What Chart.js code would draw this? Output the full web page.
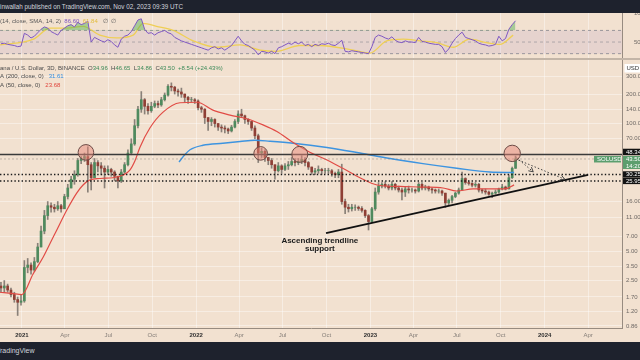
<!DOCTYPE html>
<html lang="en">
<head>
  <meta charset="UTF-8">
  <title>SOLUSD 3D - Binance</title>
  <script src="https://cdn.jsdelivr.net/npm/chart.js"></script>
  <style>
    body { margin: 0; width: 640px; height: 360px; overflow: hidden; background: #f2e1d0; position: relative; font-family: "Liberation Sans", Arial, sans-serif; }
    .topbar { position: absolute; left: 0; top: 0; width: 640px; height: 13px; background: #1e222d; color: #d1d4dc; font-size: 6.3px; line-height: 13px; white-space: nowrap; }
    .footer { position: absolute; left: 0; top: 342px; width: 640px; height: 18px; background: #1e222d; color: #d1d4dc; font-size: 7px; line-height: 18px; white-space: nowrap; overflow: hidden; }
    .footer span { position: relative; left: -4px; }
    .sep { position: absolute; left: 0; top: 58px; width: 640px; height: 2px; background: #c3b5a7; }
    #rsiChart { position: absolute; left: 0; top: 13px; }
    #mainChart { position: absolute; left: 0; top: 60px; }
  </style>
</head>
<body>
  <div class="topbar">inwallah published on TradingView.com, Nov 02, 2023 09:39 UTC</div>
  <canvas id="rsiChart" width="640" height="45"></canvas>
  <div class="sep"></div>
  <canvas id="mainChart" width="640" height="282"></canvas>
  <div class="footer"><span>TradingView</span></div>

  <script>
    // x values are days counted from 2021-01-01, one candle per week
    const firstCandleDay = -44;
    const candleStep = 7;
    const firstOpen = 2.2;

    const closes = [2.1, 2.2, 2.0, 1.8, 1.6, 1.5, 1.55, 3.4, 3.6, 3.2,
      3.9, 5.5, 8.0, 11.5, 14.5, 14, 13.5, 14.5, 13.5, 18,
      22, 27, 30, 42, 44, 46, 38, 28, 40, 37,
      35, 32, 34, 32, 29, 26, 32, 38, 50, 62,
      95, 140, 175, 150, 135, 150, 160, 155, 175, 195,
      240, 235, 215, 210, 200, 185, 175, 175, 170, 145,
      140, 115, 105, 110, 100, 92, 90, 88, 84, 92,
      105, 125, 120, 110, 105, 90, 75, 50, 52, 45,
      42, 38, 33, 37, 34, 37, 38, 41, 40, 41,
      43, 40, 36, 32, 33, 34, 33, 33, 33, 31,
      30, 32, 16, 14, 13.5, 14, 14, 13.6, 13.0, 11.5,
      10, 13.5, 20, 23, 24, 23, 22, 24, 22, 21,
      20, 21.5, 21, 21, 20.5, 24, 22, 22.5, 21.5, 21,
      20.5, 20.5, 19.5, 15.5, 16.5, 18, 19.5, 21, 27.5, 25,
      24.5, 23.5, 24, 21, 20.5, 20, 19, 19.5, 20, 21.5,
      22.5, 21.5, 28, 34.96, 43.5];
    const highs = [2.4, 2.5, 2.3, 2.1, 1.9, 1.7, 1.8, 4.0, 4.2, 3.8,
      4.3, 6.0, 9.0, 13, 16, 15.5, 15, 16, 15, 19,
      24, 29, 33, 44, 46, 50, 58, 40, 44, 42,
      40, 37, 37, 35, 33, 29, 34, 40, 54, 70,
      110, 150, 212, 180, 160, 165, 170, 170, 185, 205,
      250, 260, 240, 225, 230, 200, 190, 185, 180, 175,
      150, 142, 115, 115, 112, 100, 97, 95, 90, 96,
      110, 135, 140, 122, 112, 105, 95, 78, 56, 54,
      45, 44, 38, 40, 38, 39, 41, 45, 44, 44,
      47, 45, 41, 36, 35, 37, 35, 35, 35, 34,
      32, 34, 38.5, 17, 15, 15, 14.8, 14.4, 14.2, 13.2,
      11.8, 14, 22, 25, 25, 25.5, 24, 25.5, 24.5, 23,
      22, 22.5, 23, 22, 21.5, 25, 25, 23.5, 23, 22,
      21.5, 21.5, 21, 19.5, 17, 18.5, 20, 22, 32, 28,
      26, 25, 25, 24.5, 21.5, 21.5, 20.5, 20, 21, 22,
      24, 23, 30, 36, 46.65];
    const lows = [1.9, 1.9, 1.9, 1.7, 1.5, 1.1, 1.4, 1.5, 3.0, 2.9,
      3.1, 3.8, 5.5, 7.5, 10.5, 12.5, 12.5, 13, 12.5, 13.5,
      17, 22, 24, 29, 39, 41, 20, 21, 28, 32,
      30, 22, 30, 29, 26, 22, 25, 31, 37, 48,
      60, 90, 130, 125, 125, 130, 145, 145, 150, 170,
      190, 215, 200, 190, 185, 165, 160, 165, 160, 138,
      130, 100, 85, 95, 92, 85, 82, 80, 79, 82,
      90, 100, 115, 100, 98, 85, 70, 40, 45, 41,
      38, 35, 27, 32, 31, 33, 34, 37, 37, 38,
      39, 37, 34, 30, 30, 31, 30, 31, 31, 29,
      28, 28, 15, 12, 12.5, 12.8, 13, 13, 12.5, 11,
      8.2, 9.8, 13, 19, 22, 22, 21, 21, 21, 20,
      16.6, 18, 19.5, 20, 19.5, 20, 21, 21, 20.5, 19.5,
      19.5, 19.5, 18.5, 13.9, 14.5, 15.5, 17.5, 19, 21, 24,
      23.5, 22.5, 22.5, 20, 19.5, 19, 18.5, 17.5, 19, 19.5,
      21, 21, 21.5, 27.5, 34.86];

    const sma200Days = [329, 341, 352, 379, 421, 457, 488, 519, 568, 639, 708, 771, 840, 911, 980, 1031];
    const sma200Values = [40.5, 48, 54, 60, 63, 65.5, 67.5, 66, 63, 57, 50, 44, 39, 35, 32, 31.61];
    const sma50Days = [-46, -21, 0, 23, 44, 59, 73, 94, 115, 128, 142, 163, 191, 212, 226, 237, 247, 268, 295, 331,
      367, 400, 436, 471, 505, 534, 568, 603, 639, 672, 708, 744, 792, 840, 882, 911, 945, 980, 1012, 1031];
    const sma50Values = [1.9, 1.85, 1.8, 2.9, 4.3, 6.0, 8.2, 13.1, 19.6, 23.6, 26.5, 27.5, 28, 29.8, 33.5, 42, 57, 90, 130, 163,
      165, 137, 122, 112, 97, 83, 64, 51, 42.5, 35, 28, 23.6, 22.8, 22.5, 22, 20.5, 21.5, 21.5, 21.5, 23.68];

    const rsiValues = [47, 48, 46, 45, 44, 42, 43, 65, 62, 57,
      60, 66, 72, 76, 74, 68, 65, 62, 70, 74,
      78, 80, 76, 84, 80, 82, 86, 50, 58, 55,
      52, 50, 54, 51, 45, 41, 55, 60, 62, 68,
      78, 88, 90, 72, 65, 66, 62, 66, 68, 70,
      66, 64, 58, 55, 52, 50, 48, 46, 44, 42,
      40, 38, 36, 40, 42, 38, 40, 36, 40, 44,
      52, 60, 52, 46, 44, 40, 36, 28, 34, 33,
      31, 34, 30, 40, 42, 45, 48, 46, 50, 47,
      50, 44, 46, 42, 46, 44, 47, 46, 48, 45,
      44, 48, 53, 34, 33, 35, 34, 33, 32, 31,
      30, 42, 58, 62, 60, 57, 55, 59, 53, 50,
      49, 52, 50, 50, 49, 58, 51, 50, 48, 47,
      46, 46, 42, 32, 38, 48, 56, 62, 67, 58,
      56, 54, 52, 48, 46, 45, 43, 44, 46, 60,
      52, 56, 72, 80, 86.6];
    const rsiMaDays = [-46, 24, 59, 94, 128, 163, 198, 233, 254, 282, 317, 359, 408, 457, 499, 533, 582, 624,
      694, 729, 764, 799, 834, 869, 903, 938, 973, 1001, 1029];
    const rsiMaValues = [45, 55, 74, 74, 77, 62, 57, 62, 82, 77, 70, 52, 41, 45, 36, 34, 44, 44,
      36, 31, 52, 55, 52, 49, 41, 55, 49, 46, 61.84];

    const xTickDays = [0, 90, 181, 273, 365, 455, 546, 638, 730, 820, 911, 1003, 1095, 1186];
    const xTickLabels = ['2021', 'Apr', 'Jul', 'Oct', '2022', 'Apr', 'Jul', 'Oct', '2023', 'Apr', 'Jul', 'Oct', '2024', 'Apr'];
    const priceTicks = [300, 200, 140, 100, 70, 16, 11, 7, 5, 3.5, 2.5, 1.7, 1.2, 0.86];
    const rsiTicks = [100, 50];

    const levelSolid = 48.34;
    const levelDotted = [30.25, 25.95];
    const lastPrice = 43.50;

    const circleDays = [134, 500, 582, 1027];
    const circleValues = [50.8, 49.6, 48.5, 49.6];
    const circleSizes = [7.8, 6.8, 8, 8.2];
    const trendDays = [637, 1186];
    const trendValues = [7.6, 29.9];
    const projADays = [1036, 1071];
    const projAValues = [44.8, 32.2];
    const projBDays = [1040, 1137];
    const projBValues = [42.4, 27.0];
    const noteDay = 624;
    const noteValues = [6.32, 5.24];

    const X_MIN = -46, X_MAX = 1257;
    const FONT = '"Liberation Sans", Arial, sans-serif';
    const UP = '#4f8a5e', DOWN = '#8f3f35';

    const candleDays = closes.map((c, i) => firstCandleDay + i * candleStep);
    const opens = closes.map((c, i) => i === 0 ? firstOpen : closes[i - 1]);

    const pts = (xs, ys) => xs.map((v, i) => ({ x: v, y: ys[i] }));
    const hline = v => [{ x: X_MIN, y: v }, { x: X_MAX, y: v }];

    function drawSegments(ctx, x0, yy, segs) {
      let xx = x0;
      segs.forEach(([t, c]) => { ctx.fillStyle = c; ctx.fillText(t, xx, yy); xx += ctx.measureText(t).width; });
    }

    function arrowHead(ctx, x0, y0, x1, y1) {
      const a = Math.atan2(y1 - y0, x1 - x0);
      ctx.beginPath();
      ctx.moveTo(x1 - 5 * Math.cos(a - 0.5), y1 - 5 * Math.sin(a - 0.5));
      ctx.lineTo(x1, y1);
      ctx.lineTo(x1 - 5 * Math.cos(a + 0.5), y1 - 5 * Math.sin(a + 0.5));
      ctx.stroke();
    }

    const mainOverlay = {
      id: 'mainOverlay',
      afterDraw(chart) {
        const { ctx, chartArea, scales: { x, y } } = chart;
        ctx.save();
        ctx.font = '6px ' + FONT;
        ctx.textBaseline = 'middle';
        const grey = '#4a4a4a', green = '#3d8b5a';
        drawSegments(ctx, 0, 8.3, [['ana / U.S. Dollar, 3D, BINANCE  ', grey], ['O', grey], ['34.96', green],
          ['  H', grey], ['46.65', green], ['  L', grey], ['34.86', green], ['  C', grey], ['43.50', green],
          ['  +8.54 (+24.43%)', green]]);
        drawSegments(ctx, 0, 16.7, [['A (200, close, 0)   ', grey], ['31.61', '#2f8ce0']]);
        drawSegments(ctx, 0, 25, [['A (50, close, 0)   ', grey], ['23.68', '#e0443c']]);

        // annotation text
        ctx.font = 'bold 8px ' + FONT;
        ctx.fillStyle = '#1b1b1b';
        ctx.textAlign = 'center';
        ctx.fillText('Ascending trendline', x.getPixelForValue(noteDay), y.getPixelForValue(noteValues[0]));
        ctx.fillText('support', x.getPixelForValue(noteDay), y.getPixelForValue(noteValues[1]));

        // arrow heads of the projection lines
        ctx.strokeStyle = '#444';
        ctx.lineWidth = 1;
        arrowHead(ctx, x.getPixelForValue(projADays[0]), y.getPixelForValue(projAValues[0]),
          x.getPixelForValue(projADays[1]), y.getPixelForValue(projAValues[1]));
        arrowHead(ctx, x.getPixelForValue(projBDays[0]), y.getPixelForValue(projBValues[0]),
          x.getPixelForValue(projBDays[1]), y.getPixelForValue(projBValues[1]));

        // price tags on the axis
        const ax = chartArea.right;
        ctx.textAlign = 'left';
        ctx.font = '6px ' + FONT;
        const tag = (yc, h, bg, lines) => {
          ctx.fillStyle = bg;
          ctx.fillRect(ax + 1, yc - h / 2, 18, h);
          ctx.fillStyle = '#ffffff';
          lines.forEach((t, i) => ctx.fillText(t, ax + 4, yc - h / 2 + 3.5 + i * 6.5));
        };
        const ySolid = y.getPixelForValue(levelSolid);
        tag(ySolid - 2.5, 6.5, '#131313', [levelSolid.toFixed(2)]);
        const yLast = y.getPixelForValue(lastPrice);
        ctx.fillStyle = '#5c9e6e';
        ctx.fillRect(ax - 28, yLast - 3, 27, 6.5);
        ctx.fillStyle = '#ffffff';
        ctx.fillText('SOLUSD', ax - 25, yLast + 0.3);
        tag(yLast + 3.5, 13, '#5c9e6e', [lastPrice.toFixed(2), '14:20']);
        levelDotted.forEach(v => tag(y.getPixelForValue(v), 6.3, '#131313', [v.toFixed(2)]));

        // currency button
        ctx.fillStyle = '#ffffff';
        ctx.fillRect(ax + 2.5, 4, 18, 8.5);
        ctx.fillStyle = '#333';
        ctx.fillText('USD', ax + 4.5, 8.3);
        ctx.restore();
      }
    };

    new Chart(document.getElementById('mainChart'), {
      type: 'bar',
      data: {
        datasets: [
          { type: 'line', data: pts(circleDays, circleValues), showLine: false, pointRadius: circleSizes,
            pointBackgroundColor: 'rgba(232,135,122,0.5)', pointBorderColor: '#6b4a45', pointBorderWidth: 1, order: 1 },
          { type: 'line', data: pts(projADays, projAValues), borderColor: '#444', borderWidth: 1, borderDash: [1.5, 2],
            pointRadius: 0, order: 2 },
          { type: 'line', data: pts(projBDays, projBValues), borderColor: '#444', borderWidth: 1, borderDash: [1.5, 2],
            pointRadius: 0, order: 2 },
          { type: 'line', data: pts(trendDays, trendValues), borderColor: '#111', borderWidth: 1.8, pointRadius: 0, order: 3 },
          { type: 'line', data: hline(levelSolid), borderColor: '#3a3a3a', borderWidth: 1.6, pointRadius: 0, order: 4 },
          { type: 'line', data: hline(levelDotted[0]), borderColor: '#1a1a1a', borderWidth: 1.4, borderDash: [1.4, 2.2],
            pointRadius: 0, order: 5 },
          { type: 'line', data: hline(levelDotted[1]), borderColor: '#1a1a1a', borderWidth: 1.4, borderDash: [1.4, 2.2],
            pointRadius: 0, order: 5 },
          { type: 'line', data: hline(lastPrice), borderColor: 'rgba(130,125,120,0.45)', borderWidth: 1, borderDash: [2, 2],
            pointRadius: 0, order: 6 },
          { type: 'line', data: pts(sma50Days, sma50Values), borderColor: '#e14b45', borderWidth: 1.2, pointRadius: 0,
            cubicInterpolationMode: 'monotone', order: 7 },
          { type: 'line', data: pts(sma200Days, sma200Values), borderColor: '#3d94e0', borderWidth: 1.4, pointRadius: 0,
            cubicInterpolationMode: 'monotone', order: 8 },
          { data: candleDays.map((d, i) => ({ x: d, y: [Math.min(opens[i], closes[i]), Math.max(opens[i], closes[i])] })),
            backgroundColor: c => closes[c.dataIndex] >= opens[c.dataIndex] ? UP : DOWN,
            barThickness: 2, grouped: false, borderWidth: 0, order: 9 },
          { data: candleDays.map((d, i) => ({ x: d, y: [lows[i], highs[i]] })),
            backgroundColor: 'rgba(110,104,98,0.8)', barThickness: 1, grouped: false, borderWidth: 0, order: 10 }
        ]
      },
      options: {
        responsive: false,
        animation: false,
        events: [],
        layout: { padding: 0, autoPadding: false },
        plugins: { legend: { display: false }, tooltip: { enabled: false } },
        scales: {
          x: {
            type: 'linear', min: X_MIN, max: X_MAX, offset: false,
            grid: { color: 'rgba(255,255,255,0.4)', drawTicks: false, offset: false },
            border: { color: '#978b80' },
            ticks: {
              autoSkip: false, maxRotation: 0, padding: 4,
              callback: (v, i) => xTickLabels[i],
              font: c => ({ size: 6, family: FONT, weight: /^\d{4}$/.test(xTickLabels[c.index]) ? 'bold' : 'normal' }),
              color: c => /^\d{4}$/.test(xTickLabels[c.index]) ? '#2f2f2f' : '#857e78'
            },
            afterBuildTicks: s => { s.ticks = xTickDays.map(v => ({ value: v })); },
            afterFit: s => { s.height = 14; s.paddingLeft = 0; s.paddingRight = 0; }
          },
          y: {
            type: 'logarithmic', position: 'right', min: 0.82, max: 445,
            grid: { color: 'rgba(255,255,255,0.4)', drawTicks: false },
            border: { color: '#978b80' },
            ticks: { padding: 4, color: '#6f6a66', font: { size: 6, family: FONT }, callback: v => Number(v).toFixed(2) },
            afterBuildTicks: s => { s.ticks = priceTicks.map(v => ({ value: v })); },
            afterFit: s => { s.width = 18; s.paddingTop = 0; s.paddingBottom = 0; }
          }
        }
      },
      plugins: [mainOverlay]
    });

    const rsiOverlay = {
      id: 'rsiOverlay',
      afterDraw(chart) {
        const { ctx } = chart;
        ctx.save();
        ctx.font = '6px ' + FONT;
        ctx.textBaseline = 'middle';
        drawSegments(ctx, 0, 8, [['(14, close, SMA, 14, 2)  ', '#5a5a5a'], ['86.60', '#7e57c2'], ['  ', '#000'],
          ['61.84', '#e2bd3c'], ['   \u2205  \u2205', '#5a5a5a']]);
        ctx.restore();
      }
    };

    new Chart(document.getElementById('rsiChart'), {
      type: 'line',
      data: {
        datasets: [
          { data: pts(candleDays, rsiValues), borderColor: '#7e57c2', borderWidth: 1, pointRadius: 0,
            fill: { target: { value: 70 }, above: 'rgba(76,175,80,0.45)', below: 'rgba(0,0,0,0)' }, order: 0 },
          { data: pts(rsiMaDays, rsiMaValues), borderColor: '#efcf55', borderWidth: 1.3, pointRadius: 0,
            cubicInterpolationMode: 'monotone', order: 1 },
          { data: hline(70), borderColor: 'rgba(120,123,134,0.7)', borderWidth: 1, borderDash: [3, 3], pointRadius: 0, order: 2 },
          { data: hline(30), borderColor: 'rgba(120,123,134,0.7)', borderWidth: 1, borderDash: [3, 3], pointRadius: 0,
            fill: 2, backgroundColor: 'rgba(126,87,194,0.1)', order: 3 },
          { data: hline(50), borderColor: 'rgba(120,123,134,0.5)', borderWidth: 1, borderDash: [3, 3], pointRadius: 0, order: 2 }
        ]
      },
      options: {
        responsive: false,
        animation: false,
        events: [],
        layout: { padding: 0, autoPadding: false },
        plugins: { legend: { display: false }, tooltip: { enabled: false } },
        scales: {
          x: {
            type: 'linear', min: X_MIN, max: X_MAX,
            grid: { color: 'rgba(255,255,255,0.4)', drawTicks: false },
            border: { display: false },
            ticks: { display: false },
            afterBuildTicks: s => { s.ticks = xTickDays.map(v => ({ value: v })); },
            afterFit: s => { s.height = 0; s.paddingLeft = 0; s.paddingRight = 0; }
          },
          y: {
            type: 'linear', position: 'right', min: 22.5, max: 100,
            grid: { display: false },
            border: { color: '#978b80' },
            ticks: { padding: 4, color: '#6f6a66', font: { size: 6, family: FONT }, callback: v => Number(v).toFixed(2) },
            afterBuildTicks: s => { s.ticks = rsiTicks.map(v => ({ value: v })); },
            afterFit: s => { s.width = 18; s.paddingTop = 0; s.paddingBottom = 0; }
          }
        }
      },
      plugins: [rsiOverlay]
    });
  </script>
</body>
</html>
